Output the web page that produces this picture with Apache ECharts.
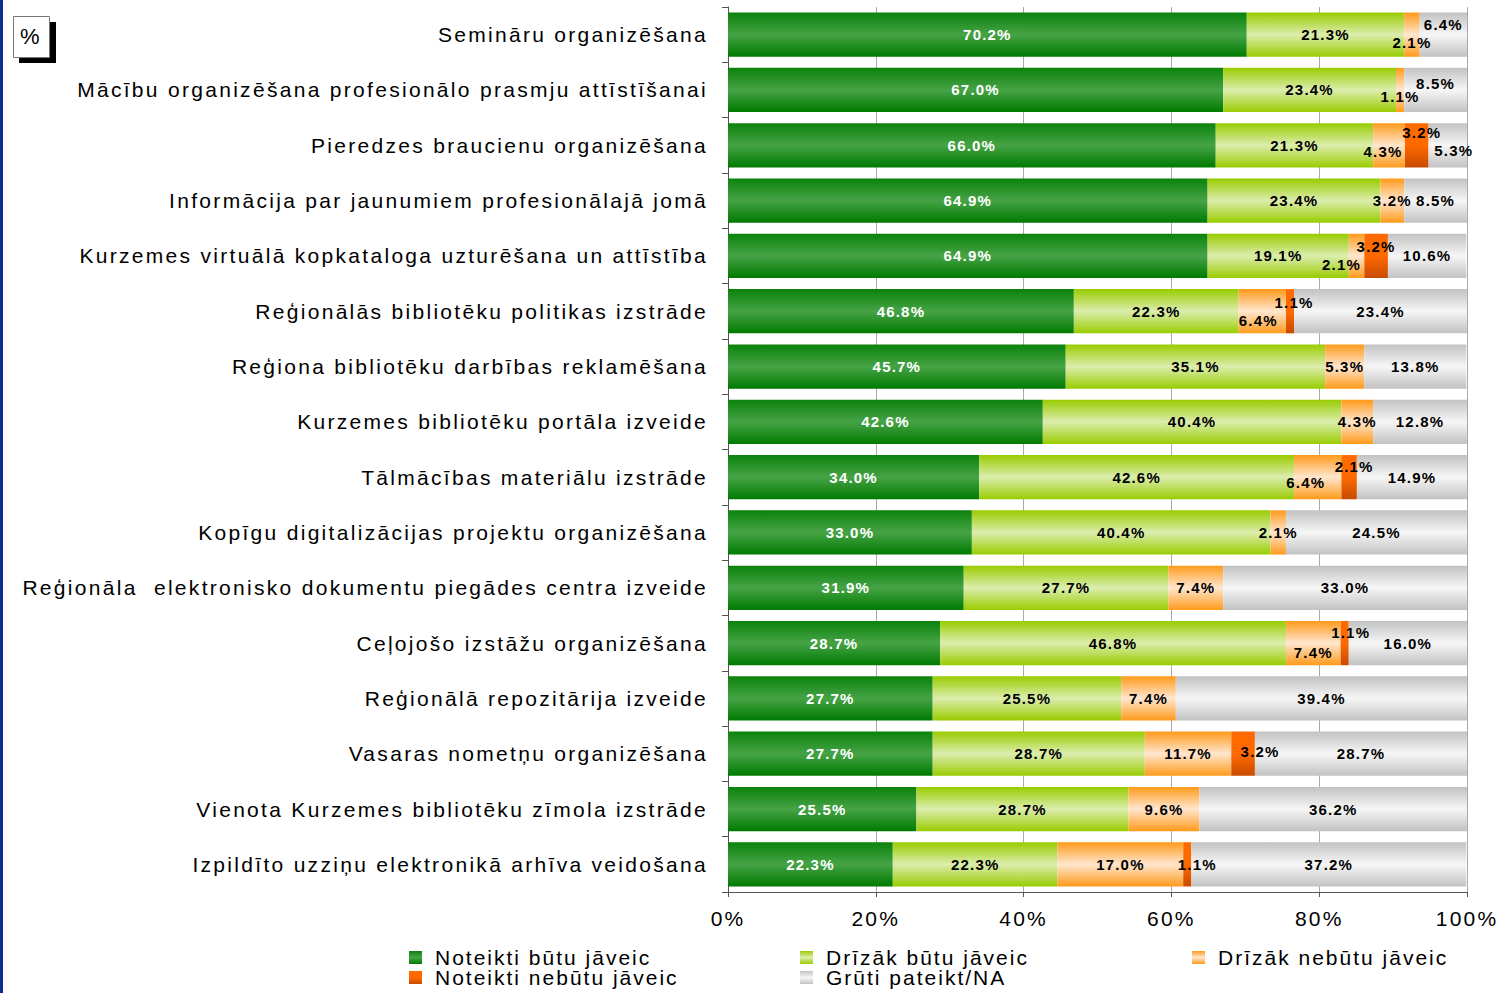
<!DOCTYPE html>
<html>
<head>
<meta charset="utf-8">
<script src="https://cdn.jsdelivr.net/npm/echarts@6/dist/echarts.min.js"></script>
<style>
html,body{margin:0;padding:0;background:#fff;}
#chart{width:1510px;height:993px;}
#chart text[style*="ylab"], #chart text[font-family*="ylab"] { letter-spacing: 2.3px; }
#chart text[style*="legf"], #chart text[font-family*="legf"] { letter-spacing: 2px; }
#chart text[style*="xlab"], #chart text[font-family*="xlab"] { letter-spacing: 2.2px; }
#chart text[style*="dlab"], #chart text[font-family*="dlab"] { letter-spacing: 1.2px; }
</style>
</head>
<body>
<div id="chart"></div>
<script>
const categories = [
  'Semināru organizēšana',
  'Mācību organizēšana profesionālo prasmju attīstīšanai',
  'Pieredzes braucienu organizēšana',
  'Informācija par jaunumiem profesionālajā jomā',
  'Kurzemes virtuālā kopkataloga uzturēšana un attīstība',
  'Reģionālās bibliotēku politikas izstrāde',
  'Reģiona bibliotēku darbības reklamēšana',
  'Kurzemes bibliotēku portāla izveide',
  'Tālmācības materiālu izstrāde',
  'Kopīgu digitalizācijas projektu organizēšana',
  'Reģionāla  elektronisko dokumentu piegādes centra izveide',
  'Ceļojošo izstāžu organizēšana',
  'Reģionālā repozitārija izveide',
  'Vasaras nometņu organizēšana',
  'Vienota Kurzemes bibliotēku zīmola izstrāde',
  'Izpildīto uzziņu elektronikā arhīva veidošana'
];
const seriesNames = ['Noteikti būtu jāveic', 'Drīzāk būtu jāveic', 'Drīzāk nebūtu jāveic', 'Noteikti nebūtu jāveic', 'Grūti pateikt/NA'];
const noteiktiButu   = [70.2, 67.0, 66.0, 64.9, 64.9, 46.8, 45.7, 42.6, 34.0, 33.0, 31.9, 28.7, 27.7, 27.7, 25.5, 22.3];
const drizakButu     = [21.3, 23.4, 21.3, 23.4, 19.1, 22.3, 35.1, 40.4, 42.6, 40.4, 27.7, 46.8, 25.5, 28.7, 28.7, 22.3];
const drizakNebutu   = [2.1, 1.1, 4.3, 3.2, 2.1, 6.4, 5.3, 4.3, 6.4, 2.1, 7.4, 7.4, 7.4, 11.7, 9.6, 17.0];
const noteiktiNebutu = [0, 0, 3.2, 0, 3.2, 1.1, 0, 0, 2.1, 0, 0, 1.1, 0, 3.2, 0, 1.1];
const gruti          = [6.4, 8.5, 5.3, 8.5, 10.6, 23.4, 13.8, 12.8, 14.9, 24.5, 33.0, 16.0, 39.4, 28.7, 36.2, 37.2];
const xTicks = [0, 20, 40, 60, 80, 100];

const values = [noteiktiButu, drizakButu, drizakNebutu, noteiktiNebutu, gruti];

// label nudges for crowded small segments: key "row-series"
const labelNudge = {
  '0-2':[0,8], '0-4':[0,-10],
  '1-2':[0,7], '1-4':[0,-6],
  '2-2':[-6,6], '2-3':[5,-13], '2-4':[6,5],
  '4-2':[-15,9], '4-3':[0,-9],
  '5-2':[-4,9], '5-3':[4,-9],
  '8-2':[-12,5], '8-3':[5,-11],
  '11-2':[0,9], '11-3':[6,-11],
  '13-3':[17,-2],
  '15-3':[10,0]
};

function grad(edge, mid, bottom) {
  return new echarts.graphic.LinearGradient(0, 0, 0, 1, [
    {offset: 0, color: edge},
    {offset: 0.5, color: mid},
    {offset: 1, color: bottom || edge}
  ]);
}
const colors = [
  grad('#0b820b', '#46a346', '#007a00'),
  grad('#99cc00', '#dcedae', '#99cc00'),
  grad('#ff9a1a', '#ffe6cf', '#ff9a1a'),
  grad('#ff6a00', '#ff6a00', '#c84a00'),
  grad('#c2c2c2', '#f6f6f6', '#c2c2c2')
];
const labelColors = ['#ffffff', '#000', '#000', '#000', '#000'];
const fam = tag => '"Liberation Sans", ' + tag + ', Arial, sans-serif';

const series = values.map((arr, si) => ({
  name: seriesNames[si],
  type: 'bar',
  stack: 'total',
  barCategoryGap: '20%',
  itemStyle: {color: colors[si]},
  data: arr.map((v, ri) => {
    const nudge = labelNudge[ri + '-' + si];
    const item = {value: v};
    if (nudge) item.label = {offset: nudge};
    return item;
  }),
  label: {
    show: true,
    position: 'inside',
    color: labelColors[si],
    fontFamily: fam('dlab'),
    fontWeight: 'bold',
    fontSize: 15,
    formatter: p => p.value ? p.value.toFixed(1) + '%' : ''
  }
}));

// legend placement: [series index, left, top]
const legendSlots = [[0, 409, 947], [3, 409, 967], [1, 800, 947], [4, 800, 967], [2, 1192, 947]];
const legends = legendSlots.map(([si, l, t]) => ({
  data: [seriesNames[si]], left: l, top: t, padding: 0, orient: 'horizontal',
  itemWidth: 13, itemHeight: 13, icon: 'rect', itemGap: 0,
  textStyle: {fontSize: 21, color: '#000', fontFamily: fam('legf'), lineHeight: 20, padding: [0, 0, 0, 8]}
}));

const chart = echarts.init(document.getElementById('chart'), null, {renderer: 'svg'});
chart.setOption({
  animation: false,
  backgroundColor: '#fff',
  grid: {left: 728, right: 43, top: 7, bottom: 101, containLabel: false},
  xAxis: {
    type: 'value', min: 0, max: 100, interval: 20,
    axisLine: {show: true, lineStyle: {color: '#555', width: 1}},
    axisTick: {show: true, length: 5, lineStyle: {color: '#555'}},
    splitLine: {show: true, lineStyle: {color: '#aaa', width: 1}},
    axisLabel: {
      margin: 16, color: '#000', fontSize: 21, fontFamily: fam('xlab'),
      formatter: v => xTicks.includes(v) ? v + '%' : ''
    }
  },
  yAxis: {
    type: 'category', inverse: true, data: categories,
    axisLine: {show: true, lineStyle: {color: '#555', width: 1}},
    axisTick: {show: true, length: 6, lineStyle: {color: '#555'}},
    axisLabel: {margin: 20, color: '#000', fontSize: 21, fontFamily: fam('ylab'), padding: [0, 0, 4, 0]}
  },
  legend: legends,
  graphic: [
    {type: 'rect', left: 0, top: 0, shape: {width: 3, height: 993}, style: {fill: '#0a2d8c'}},
    {type: 'rect', left: 19, top: 22, shape: {width: 37, height: 41}, style: {fill: '#000'}},
    {type: 'rect', left: 13, top: 16, shape: {width: 36, height: 41}, style: {fill: '#fff', stroke: '#777', lineWidth: 1}},
    {type: 'text', left: 20, top: 25, style: {text: '%', fontSize: 22, fill: '#000', fontFamily: fam('plain')}}
  ],
  series: series
});
</script>
</body>
</html>
